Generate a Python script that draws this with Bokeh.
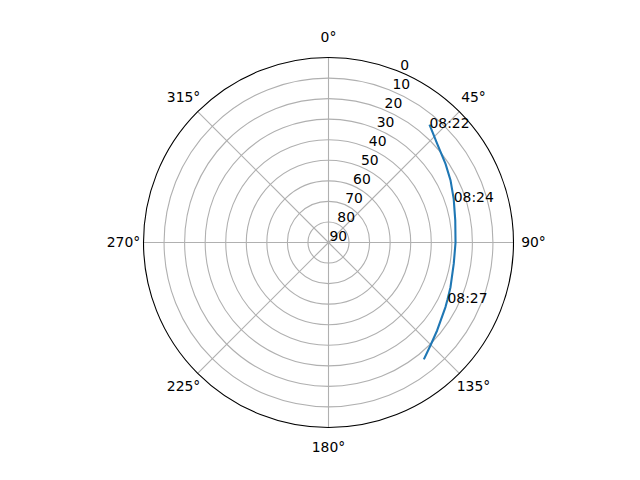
import numpy as np
from bokeh.plotting import figure
from bokeh.models import Range1d
from bokeh.core.properties import value
from bokeh.embed import file_html
from bokeh.resources import INLINE

# satellite track (azimuth deg clockwise from north, elevation deg)
track_az = [40.6, 47.8, 56.1, 63.1, 70.8, 80.1, 90.0, 99.6, 110.1, 115.6, 118.9, 129.0, 135.3, 140.8]
track_el = [14.5, 18.6, 21.4, 23.4, 25.5, 27.4, 28.2, 28.2, 26.8, 25.8, 25.0, 22.0, 19.5, 16.6]

# time annotations
label_text = ["08:22", "08:24", "08:27"]
label_az = [40.6, 70.8, 115.6]
label_el = [14.5, 25.5, 25.8]

# axis ticks
theta_ticks = [0, 45, 90, 135, 180, 225, 270, 315]
theta_labels = ["0°", "45°", "90°", "135°", "180°", "225°", "270°", "315°"]
r_ticks = [0, 10, 20, 30, 40, 50, 60, 70, 80, 90]
r_labels = ["0", "10", "20", "30", "40", "50", "60", "70", "80", "90"]

FONT = value("DejaVu Sans")
FS = value("13.9px")
RMAX = 90.0
k = 185.0 / 90.0  # px per unit


def to_xy(az, el):
    az = np.radians(np.asarray(az, dtype=float))
    r = RMAX - np.asarray(el, dtype=float)
    return r * np.sin(az), r * np.cos(az)


p = figure(width=624, height=464, output_backend="svg", toolbar_location=None,
           x_range=Range1d(-328 / k, 296 / k), y_range=Range1d(-222 / k, 242 / k),
           min_border=0)
p.axis.visible = False
p.grid.visible = False
p.outline_line_color = None
p.background_fill_color = "white"

# circular grid
ring_r = [RMAX - e for e in r_ticks if 0 < e < 90]
p.circle(x=[0] * len(ring_r), y=[0] * len(ring_r), radius=ring_r,
         fill_color=None, line_color="#b0b0b0", line_width=1.1)

# radial grid lines
ex, ey = to_xy(theta_ticks, [0] * len(theta_ticks))
p.segment(x0=[0] * len(ex), y0=[0] * len(ey), x1=ex, y1=ey,
          line_color="#b0b0b0", line_width=1.1)

# spine
p.circle(x=[0], y=[0], radius=[RMAX], fill_color=None, line_color="black", line_width=1.1)

# track
tx, ty = to_xy(track_az, track_el)
p.line(tx, ty, line_color="#1f77b4", line_width=2.1, line_join="round")

# time labels
lx, ly = to_xy(label_az, label_el)
p.text(x=lx, y=ly, text=label_text, text_font=FONT, text_font_size=FS,
       text_align="left", text_baseline="alphabetic", y_offset=-2,
       text_color="black")

# theta labels
thx, thy = to_xy(theta_ticks, [RMAX - 205 / k] * len(theta_ticks))
p.text(x=thx, y=thy, text=theta_labels, text_font=FONT, text_font_size=FS,
       text_align="center", text_baseline="middle", y_offset=-1, text_color="black")

# radial labels at 22.5 deg
rx, ry = to_xy([22.5] * len(r_ticks), r_ticks)
p.text(x=rx, y=ry, text=r_labels, text_font=FONT, text_font_size=FS,
       text_align="left", text_baseline="bottom", x_offset=1, y_offset=-2,
       text_color="black")

open("out.html", "w").write(file_html(p, INLINE))
